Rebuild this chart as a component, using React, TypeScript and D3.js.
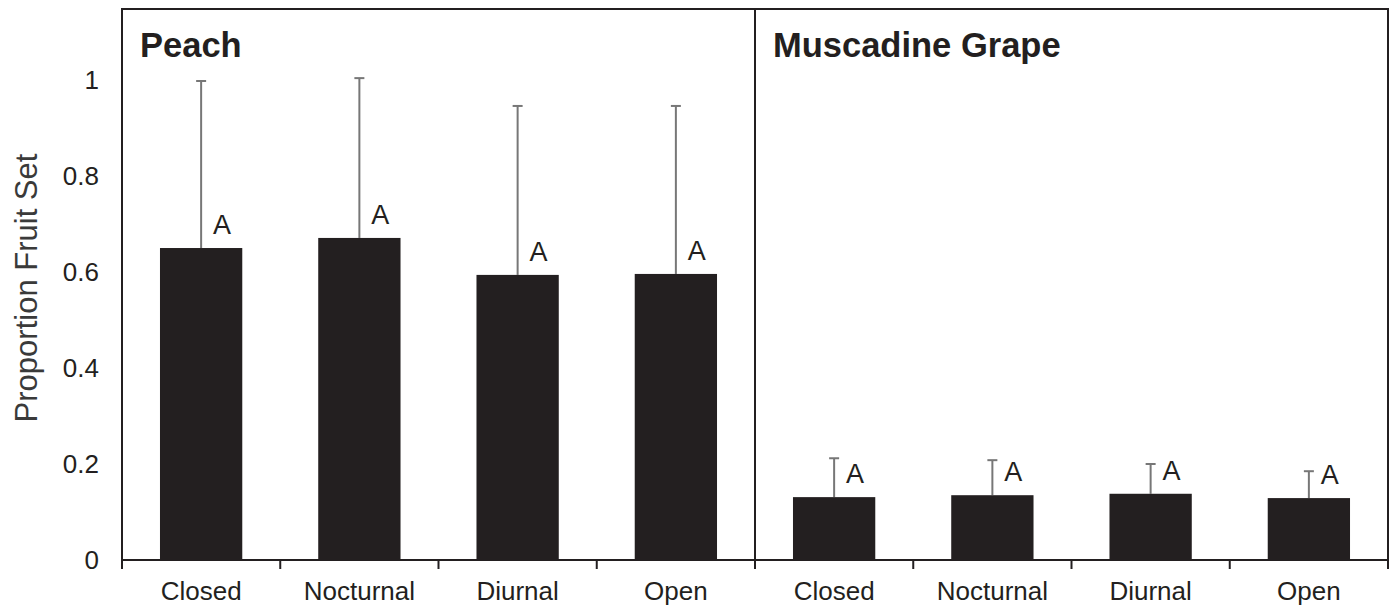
import React from "react";
import * as d3 from "d3";

const categories = ["Closed", "Nocturnal", "Diurnal", "Open"];
const panels = ["Peach", "Muscadine Grape"];
const peachValues = [0.65, 0.671, 0.594, 0.596];
const peachErrTop = [0.998, 1.004, 0.946, 0.946];
const grapeValues = [0.131, 0.135, 0.138, 0.129];
const grapeErrTop = [0.212, 0.208, 0.2, 0.185];
const letters = ["A", "A", "A", "A"];
const yTicks = [0, 0.2, 0.4, 0.6, 0.8, 1];

const W = 1395;
const H = 607;
const margin = { top: 9, right: 7, bottom: 47, left: 122 };
const font = "'Liberation Sans', Arial, sans-serif";
const ink = "#231f20";

const App: React.FC = () => {
  const innerW = W - margin.left - margin.right;
  const panelW = innerW / 2;
  const y = d3.scaleLinear().domain([0, 1.148]).range([H - margin.bottom, margin.top]);
  const y0 = y(0);

  const data = [
    { name: panels[0], values: peachValues, err: peachErrTop },
    { name: panels[1], values: grapeValues, err: grapeErrTop },
  ];

  return (
    <svg width={W} height={H} style={{ position: "absolute", left: 0, top: 0 }}>
      <rect width={W} height={H} fill="white" />
      {/* y tick labels */}
      {yTicks.map((t) => (
        <text
          key={t}
          x={99}
          y={y(t)}
          dy="0.36em"
          textAnchor="end"
          fontFamily={font}
          fontSize={26}
          fill={ink}
        >
          {d3.format("~g")(t)}
        </text>
      ))}
      <text
        transform={`translate(37,288) rotate(-90)`}
        textAnchor="middle"
        fontFamily={font}
        fontSize={31}
        fill="#3a3a3a"
      >
        Proportion Fruit Set
      </text>

      {data.map((p, pi) => {
        const x0 = margin.left + pi * panelW;
        const x = d3
          .scaleBand<string>()
          .domain(categories)
          .range([x0, x0 + panelW])
          .paddingInner(0.48)
          .paddingOuter(0.24);
        const step = x.step();
        return (
          <g key={p.name}>
            <text
              x={x0 + 18}
              y={57}
              fontFamily={font}
              fontWeight="bold"
              fontSize={34.5}
              fill={ink}
            >
              {p.name}
            </text>
            {categories.map((c, i) => {
              const bx = x(c)!;
              const cx = bx + x.bandwidth() / 2;
              return (
                <g key={c}>
                  <line
                    x1={cx}
                    x2={cx}
                    y1={y(p.values[i])}
                    y2={y(p.err[i])}
                    stroke="#777"
                    strokeWidth={2}
                  />
                  <line
                    x1={cx - 5}
                    x2={cx + 5}
                    y1={y(p.err[i])}
                    y2={y(p.err[i])}
                    stroke="#777"
                    strokeWidth={2}
                  />
                  <rect
                    x={bx}
                    y={y(p.values[i])}
                    width={x.bandwidth()}
                    height={y0 - y(p.values[i])}
                    fill={ink}
                  />
                  <text
                    x={cx + 21}
                    y={y(p.values[i]) - 14}
                    textAnchor="middle"
                    fontFamily={font}
                    fontSize={27}
                    fill={ink}
                  >
                    {letters[i]}
                  </text>
                  <text
                    x={cx}
                    y={600}
                    textAnchor="middle"
                    fontFamily={font}
                    fontSize={26}
                    fill={ink}
                  >
                    {c}
                  </text>
                </g>
              );
            })}
            {d3.range(categories.length + 1).map((k) => (
              <line
                key={k}
                x1={x0 + k * step}
                x2={x0 + k * step}
                y1={y0}
                y2={y0 + 9}
                stroke={ink}
                strokeWidth={2}
              />
            ))}
          </g>
        );
      })}

      {/* frame */}
      <rect
        x={margin.left}
        y={margin.top}
        width={innerW}
        height={y0 - margin.top}
        fill="none"
        stroke={ink}
        strokeWidth={2}
      />
      <line
        x1={margin.left + panelW}
        x2={margin.left + panelW}
        y1={margin.top}
        y2={y0}
        stroke={ink}
        strokeWidth={2}
      />
    </svg>
  );
};

export default App;
